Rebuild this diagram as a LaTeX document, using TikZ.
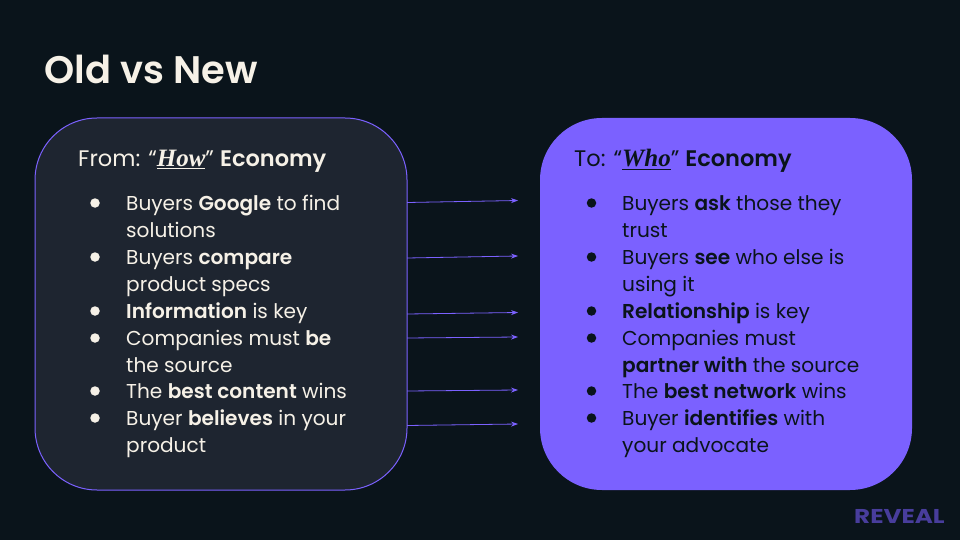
\documentclass[tikz,border=0pt]{standalone}
\usepackage{fontspec}
\setmainfont[BoldFont={Poppins SemiBold}]{Poppins}
\newfontfamily\howfont{Liberation Serif}
\newfontfamily\logofont[FakeStretch=1.23]{Poppins}
\usetikzlibrary{arrows.meta, positioning}
\definecolor{bgcolor}{RGB}{10,20,27}
\definecolor{oldcolor}{RGB}{30,37,48}
\definecolor{newcolor}{RGB}{123,97,255}
\definecolor{creamcolor}{RGB}{246,241,231}
\definecolor{logocolor}{RGB}{72,61,156}
\newcommand{\keyword}[1]{{\fontsize{25}{26.8}\selectfont\howfont\bfseries\itshape\underline{#1}}}

\begin{document}
\begin{tikzpicture}[x=1pt, y=-1pt, >={Stealth[length=7pt, width=5pt]},
    panel/.style={minimum width=372pt, minimum height=372pt, rounded corners=62pt, inner sep=0pt},
    txt/.style={anchor=base west, inner sep=0pt, align=left, font=\fontsize{20.1}{26.8}\selectfont},
    head/.style={txt, font=\fontsize{22.5}{26.8}\selectfont},
    dot/.style={circle, minimum size=9.5pt, inner sep=0pt}]

    \fill[bgcolor] (0,0) rectangle (960,540);
    \node[txt, text=creamcolor, font=\fontsize{38.4}{40}\selectfont\bfseries] (title) at (44,84) {Old vs New};

    \node[panel, draw=newcolor, line width=1pt, fill=oldcolor] (oldbox) at (221,304) {};
    \node[panel, fill=newcolor] (newbox) at (726,304) {};

    \node[head, text=creamcolor] (oldhead) at (78,167) {From: ``\keyword{How}'' \textbf{Economy}};
    \node[head, text=bgcolor] (newhead) at (574,167) {To: ``\keyword{Who}'' \textbf{Economy}};

    % left list
    \begin{scope}[every node/.append style={text=creamcolor}]
    \node[txt] (o1) at (126,237) {Buyers \textbf{Google} to find\\solutions};
    \node[txt] (o2) at (126,291) {Buyers \textbf{compare}\\product specs};
    \node[txt] (o3) at (126,318) {\textbf{Information} is key};
    \node[txt] (o4) at (126,372) {Companies must \textbf{be}\\the source};
    \node[txt] (o5) at (126,398) {The \textbf{best content} wins};
    \node[txt] (o6) at (126,452) {Buyer \textbf{believes} in your\\product};
    \end{scope}

    % right list
    \begin{scope}[every node/.append style={text=bgcolor}]
    \node[txt] (n1) at (622,237) {Buyers \textbf{ask} those they\\trust};
    \node[txt] (n2) at (622,291) {Buyers \textbf{see} who else is\\using it};
    \node[txt] (n3) at (622,318) {\textbf{Relationship} is key};
    \node[txt] (n4) at (622,372) {Companies must\\\textbf{partner with} the source};
    \node[txt] (n5) at (622,398) {The \textbf{best network} wins};
    \node[txt] (n6) at (622,452) {Buyer \textbf{identifies} with\\your advocate};
    \end{scope}

    \foreach \i/\y in {1/203, 2/257, 3/311, 4/338, 5/391, 6/418} {
      \node[dot, fill=creamcolor] (odot\i) at (95,\y) {};
      \node[dot, fill=bgcolor] (ndot\i) at (591.5,\y) {};
    }

    % arrows between the panels
    \foreach \i/\a/\b in {1/202.5/200.5, 2/258/256, 3/314/312.5, 4/338/337, 5/391/390, 6/425.5/424} {
      \coordinate (from\i) at (407,\a);
      \coordinate (to\i) at (518,\b);
      \draw[->, newcolor, line width=0.8pt] (from\i) -- (to\i);
    }

    \node[txt, text=logocolor, font=\fontsize{20}{24}\selectfont\logofont\bfseries] (logo) at (854,523) {REVEAL};
\end{tikzpicture}
\end{document}
